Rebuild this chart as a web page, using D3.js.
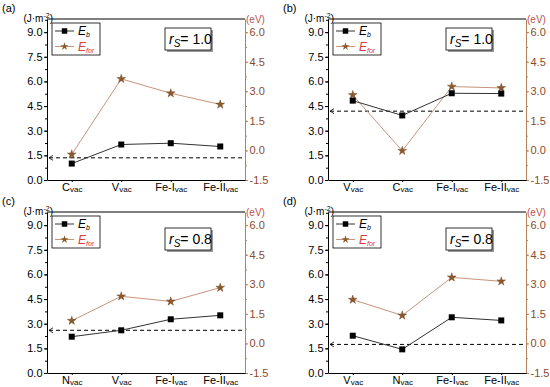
<!DOCTYPE html>
<html>
<head>
<meta charset="utf-8">
<script src="https://cdn.jsdelivr.net/npm/d3@7"></script>
<style>
body { margin: 0; background: #fff; }
svg { font-family: "Liberation Sans", Arial, sans-serif; }
</style>
</head>
<body>
<svg id="chart"></svg>
<script>
const width = 550
const height = 387

// data
const panelLabels = ['(a)', '(b)', '(c)', '(d)']
const rsValues = ['1.0', '1.0', '0.8', '0.8']
const categoriesA = ['C', 'V', 'Fe-I', 'Fe-II']
const categoriesB = ['V', 'C', 'Fe-I', 'Fe-II']
const categoriesC = ['N', 'V', 'Fe-I', 'Fe-II']
const categoriesD = ['V', 'N', 'Fe-I', 'Fe-II']
const ebA = [1.0, 2.16, 2.24, 2.04]
const ebB = [4.83, 3.93, 5.28, 5.26]
const ebC = [2.21, 2.60, 3.27, 3.51]
const ebD = [2.27, 1.44, 3.39, 3.20]
const eforA = [-0.2, 3.63, 2.9, 2.33]
const eforB = [2.81, -0.02, 3.24, 3.17]
const eforC = [1.15, 2.39, 2.13, 2.83]
const eforD = [2.22, 1.42, 3.35, 3.15]
const refLines = [1.35, 4.19, 2.60, 1.74]   // dashed line, J·m^-2
const leftTicks = [0, 1.5, 3, 4.5, 6, 7.5, 9]
const rightTicks = [-1.5, 0, 1.5, 3, 4.5, 6]

const panels = [
    { cats: categoriesA, eb: ebA, efor: eforA },
    { cats: categoriesB, eb: ebB, efor: eforB },
    { cats: categoriesC, eb: ebC, efor: eforC },
    { cats: categoriesD, eb: ebD, efor: eforD }
]

// layout
const origins = [[47, 19], [328, 19], [47, 212], [328, 212]]
const plotH = 161
const yTop = 9.8
const plotW = 198

const rightColor = '#b5825e'
const rightText = '#8a4a2c'
const starColor = '#8b5a2b'
const eforLine = '#c8957a'

const svg = d3.select('#chart')
    .attr('width', width)
    .attr('height', height)

// right axis maps 0 -> -1.5 and 9 -> 6
const toRight = v => -1.5 + v * 7.5 / 9

const minorLeft = d3.range(0, 9.8, 0.75)
const minorRight = d3.range(-1.5, 6.7, 0.75)
const fmt = d3.format('.1f')

const drawPanel = (i) => {
    const p = panels[i]
    const [ox, oy] = origins[i]
    const h = plotH
    const g = svg.append('g').attr('transform', `translate(${ox},${oy})`)

    const x = d3.scalePoint().domain(p.cats).range([0, plotW]).padding(0.5)
    const y = d3.scaleLinear().domain([0, yTop]).range([h, 0])
    const yr = d3.scaleLinear().domain([-1.5, toRight(yTop)]).range([h, 0])

    // frame top
    g.append('line').attr('x1', 0).attr('x2', plotW).attr('y1', 0).attr('y2', 0)
        .attr('stroke', '#000').attr('stroke-width', 1)

    // left axis
    g.append('g')
        .call(d3.axisLeft(y).tickValues(minorLeft).tickSize(2).tickFormat(''))
        .call(a => a.select('.domain').remove())
    const la = g.append('g')
        .call(d3.axisLeft(y).tickValues(leftTicks).tickSizeInner(3).tickSizeOuter(0).tickPadding(1.5).tickFormat(fmt))
    la.selectAll('text').attr('font-size', 11).attr('fill', '#000')
    la.select('.domain').attr('stroke', '#000')

    // right axis
    const ra = g.append('g').attr('transform', `translate(${plotW},0)`)
    ra.append('g')
        .call(d3.axisRight(yr).tickValues(minorRight).tickSize(2).tickFormat(''))
        .call(a => a.select('.domain').remove())
        .selectAll('line').attr('stroke', rightColor)
    const rb = ra.append('g')
        .call(d3.axisRight(yr).tickValues(rightTicks).tickSizeInner(3).tickSizeOuter(0).tickPadding(1.5)
            .tickFormat(d => d < 0 ? '-' + fmt(-d) : fmt(d)))
    rb.select('.domain').attr('stroke', rightColor)
    rb.selectAll('.tick line').attr('stroke', rightColor)
    rb.selectAll('text').attr('font-size', 11).attr('fill', rightText)

    // bottom axis with subscripts
    const xa = g.append('g').attr('transform', `translate(0,${h})`)
        .call(d3.axisBottom(x).tickSizeInner(2).tickSizeOuter(0).tickPadding(1))
    xa.select('.domain').attr('stroke', '#000')
    xa.selectAll('text')
        .attr('font-size', 11).attr('fill', '#000').attr('dy', '0.7em')
        .each(function (d) {
            const t = d3.select(this)
            t.text('')
            t.append('tspan').text(d)
            t.append('tspan').attr('font-size', 8).attr('dy', 1.5).text('vac')
        })

    // unit labels
    const ul = g.append('text').attr('x', 6).attr('y', 3).attr('text-anchor', 'end')
        .attr('font-size', 10)
    ul.append('tspan').text('(J\u00b7m')
    ul.append('tspan').attr('font-size', 7).attr('dy', -4).text('-2')
    ul.append('tspan').attr('dy', 4).text(')')
    g.append('text').attr('x', plotW + 1).attr('y', 4).attr('font-size', 10)
        .attr('fill', '#c0504d').text('(eV)')

    // panel label
    svg.append('text').attr('x', ox - 45).attr('y', oy - 7.5).attr('font-size', 11)
        .text(panelLabels[i])

    // dashed reference line
    const ry = y(refLines[i])
    g.append('line').attr('x1', 2).attr('x2', plotW).attr('y1', ry).attr('y2', ry)
        .attr('stroke', '#000').attr('stroke-dasharray', '4,3').attr('stroke-width', 1)
    g.append('path').attr('d', `M6,${ry - 2.5}L2,${ry}L6,${ry + 2.5}`)
        .attr('fill', 'none').attr('stroke', '#000').attr('stroke-width', 0.8)

    // E_for series (right axis)
    const eforPts = p.cats.map((c, k) => [x(c), yr(p.efor[k])])
    g.append('path').attr('d', d3.line()(eforPts))
        .attr('fill', 'none').attr('stroke', eforLine).attr('stroke-width', 1)
    g.selectAll('.star').data(eforPts).enter().append('path')
        .attr('class', 'star')
        .attr('transform', d => `translate(${d[0]},${d[1]})`)
        .attr('d', d3.symbol().type(d3.symbolStar).size(24))
        .attr('fill', starColor).attr('stroke', '#6b3b1b').attr('stroke-width', 0.4)

    // E_b series (left axis)
    const ebPts = p.cats.map((c, k) => [x(c), y(p.eb[k])])
    g.append('path').attr('d', d3.line()(ebPts))
        .attr('fill', 'none').attr('stroke', '#333').attr('stroke-width', 1)
    g.selectAll('.sq').data(ebPts).enter().append('path')
        .attr('class', 'sq')
        .attr('transform', d => `translate(${d[0]},${d[1]})`)
        .attr('d', d3.symbol().type(d3.symbolSquare).size(36))
        .attr('fill', '#000')

    // legend
    const lg = g.append('g').attr('transform', 'translate(5,4)')
    lg.append('rect').attr('width', 48).attr('height', 32)
        .attr('fill', '#fff').attr('stroke', '#000').attr('stroke-width', 0.8)
    lg.append('line').attr('x1', 3).attr('x2', 22).attr('y1', 8).attr('y2', 8).attr('stroke', '#333')
    lg.append('path').attr('transform', 'translate(12.5,8)')
        .attr('d', d3.symbol().type(d3.symbolSquare).size(30)).attr('fill', '#000')
    lg.append('line').attr('x1', 3).attr('x2', 22).attr('y1', 23.5).attr('y2', 23.5).attr('stroke', eforLine)
    lg.append('path').attr('transform', 'translate(12.5,23.5)')
        .attr('d', d3.symbol().type(d3.symbolStar).size(20)).attr('fill', starColor)
    const t1 = lg.append('text').attr('x', 26).attr('y', 12).attr('font-size', 12).attr('font-style', 'italic')
    t1.append('tspan').text('E')
    t1.append('tspan').attr('font-size', 7).attr('dy', 2).text('b')
    const t2 = lg.append('text').attr('x', 26).attr('y', 27.5).attr('font-size', 12)
        .attr('font-style', 'italic').attr('fill', '#d9403a')
    t2.append('tspan').text('E')
    t2.append('tspan').attr('font-size', 7).attr('dy', 2).text('for')

    // r_S box
    const by = i < 2 ? 9 : 16
    const rb2 = g.append('g').attr('transform', `translate(118,${by})`)
    rb2.append('rect').attr('x', 2).attr('y', 2).attr('width', 46).attr('height', 22).attr('fill', '#999')
    rb2.append('rect').attr('width', 46).attr('height', 22)
        .attr('fill', '#fff').attr('stroke', '#000').attr('stroke-width', 0.8)
    const rt = rb2.append('text').attr('x', 4).attr('y', 16).attr('font-size', 14)
    rt.append('tspan').attr('font-style', 'italic').text('r')
    rt.append('tspan').attr('font-style', 'italic').attr('font-size', 10).attr('dy', 3).text('S')
    rt.append('tspan').attr('dy', -3).text('= ' + rsValues[i])
}

panels.forEach((p, i) => drawPanel(i))
</script>
</body>
</html>
